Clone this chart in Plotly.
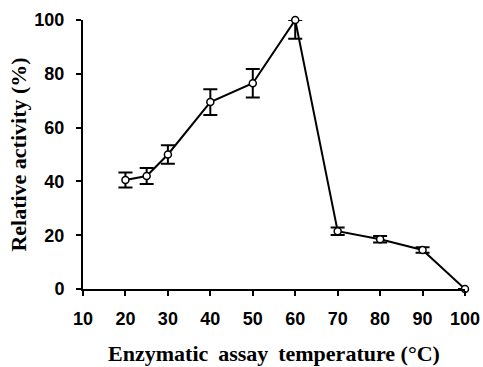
import plotly.graph_objects as go

temperature = [20, 25, 30, 40, 50, 60, 70, 80, 90, 100]
activity = [40.5, 42.0, 50.0, 69.5, 76.5, 100.0, 21.5, 18.5, 14.5, 0.0]
err_plus = [2.8, 3.0, 3.4, 4.8, 5.3, 0.0, 1.4, 1.2, 1.0, 0.0]
err_minus = [2.8, 3.0, 3.4, 4.8, 5.3, 7.0, 1.4, 1.2, 1.0, 0.0]
x_ticks = [10, 20, 30, 40, 50, 60, 70, 80, 90, 100]
y_ticks = [0, 20, 40, 60, 80, 100]
x_title = "Enzymatic\u2009 assay\u2009 temperature (°C)"
y_title = "Relative activity (%)"

fig = go.Figure()
fig.add_trace(go.Scatter(
    x=temperature, y=activity, mode="lines+markers",
    line=dict(color="black", width=2),
    marker=dict(symbol="circle", size=7, color="white", line=dict(color="black", width=1.5)),
    error_y=dict(type="data", symmetric=False, array=err_plus, arrayminus=err_minus,
                 color="black", thickness=2, width=7),
    cliponaxis=False, showlegend=False, hoverinfo="skip",
))

tick_font = dict(family="Liberation Sans, Arial", size=18, color="black", weight="bold")
title_font = dict(family="Liberation Serif, Times New Roman", size=22, color="black", weight="bold")

fig.update_layout(
    width=483, height=367,
    margin=dict(l=83, r=18, t=20, b=78, autoexpand=False),
    paper_bgcolor="white", plot_bgcolor="white",
    xaxis=dict(range=[10, 100], tickvals=x_ticks, showgrid=False, zeroline=False,
               showline=True, linecolor="black", linewidth=2, automargin=False,
               ticks="outside", ticklen=5, tickwidth=2, tickcolor="black",
               tickfont=tick_font, ticklabelstandoff=7,
               title=dict(text=x_title, font=title_font, standoff=18)),
    yaxis=dict(range=[0, 100], tickvals=y_ticks, showgrid=False, zeroline=False,
               showline=True, linecolor="black", linewidth=2, automargin=False,
               ticks="outside", ticklen=5, tickwidth=2, tickcolor="black",
               tickfont=tick_font, ticklabelstandoff=8,
               title=dict(text=y_title, font=title_font, standoff=2)),
)

fig.write_html("out.html", config={"displayModeBar": False},
               post_script="document.body.style.margin='0';document.body.style.overflow='hidden';")
